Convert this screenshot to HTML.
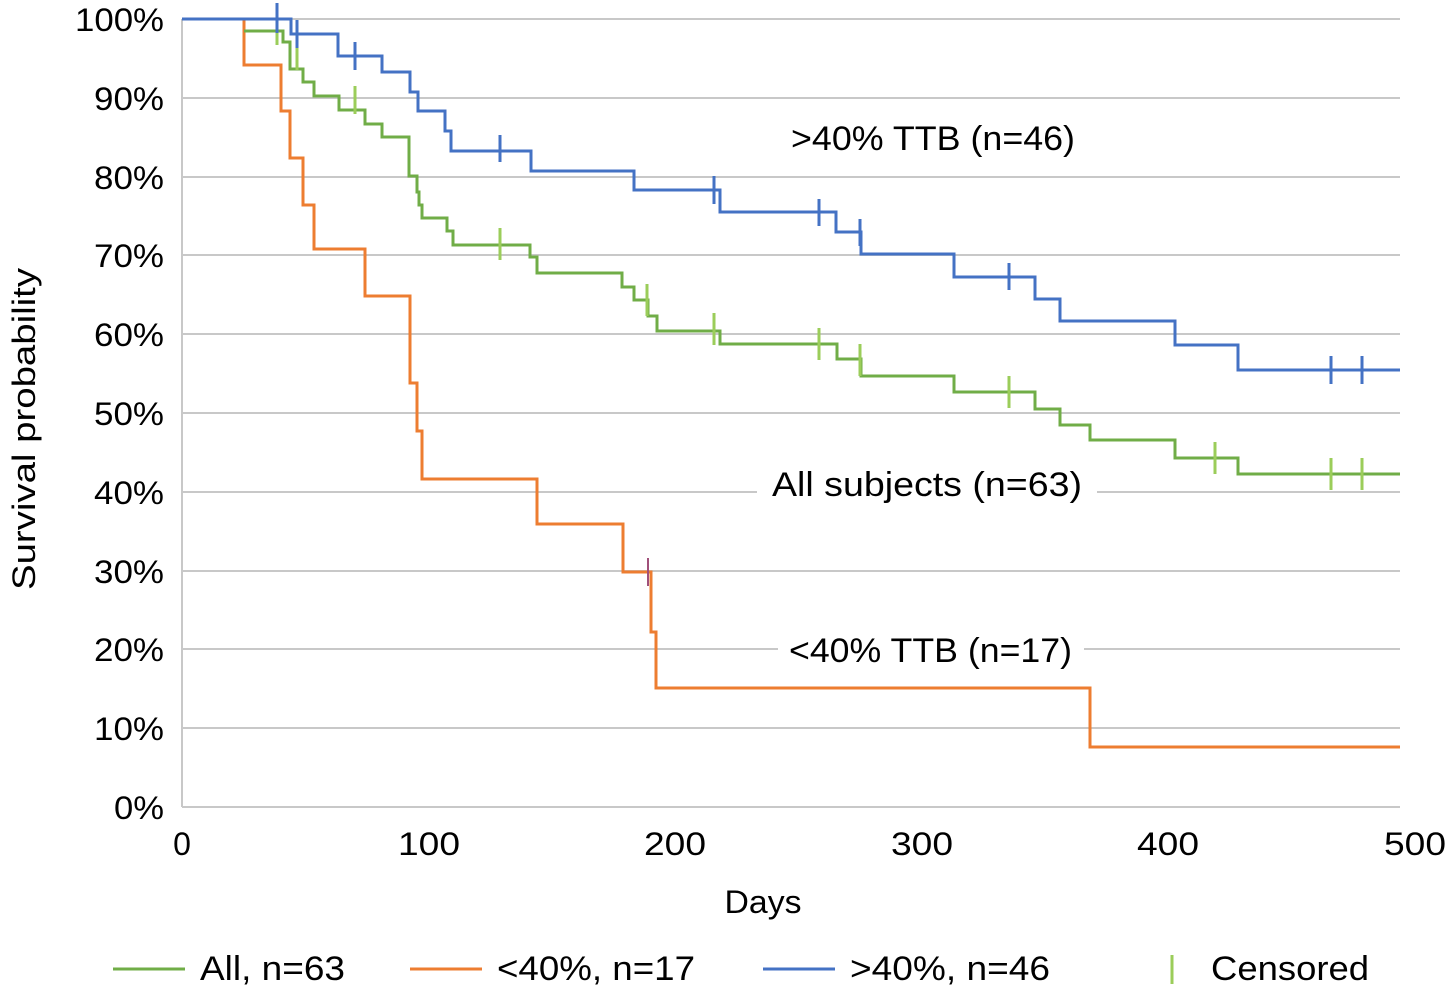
<!DOCTYPE html>
<html><head><meta charset="utf-8"><style>body{margin:0;background:#fff}</style></head><body>
<svg width="1448" height="994" xmlns="http://www.w3.org/2000/svg" font-family="Liberation Sans, sans-serif" fill="#000">
<g stroke="#c8c8c8" stroke-width="2">
<line x1="182" y1="19" x2="1400" y2="19"/><line x1="182" y1="98" x2="1400" y2="98"/><line x1="182" y1="177" x2="1400" y2="177"/><line x1="182" y1="255" x2="1400" y2="255"/><line x1="182" y1="334" x2="1400" y2="334"/><line x1="182" y1="413" x2="1400" y2="413"/><line x1="182" y1="492" x2="1400" y2="492"/><line x1="182" y1="571" x2="1400" y2="571"/><line x1="182" y1="649" x2="1400" y2="649"/><line x1="182" y1="728" x2="1400" y2="728"/><line x1="182" y1="807" x2="1400" y2="807"/>
<line x1="182" y1="19" x2="182" y2="807"/>
</g>
<g font-size="32" text-anchor="end" lengthAdjust="spacingAndGlyphs">
<text x="164" y="31" textLength="89" lengthAdjust="spacingAndGlyphs">100%</text><text x="164" y="110" textLength="70" lengthAdjust="spacingAndGlyphs">90%</text><text x="164" y="189" textLength="70" lengthAdjust="spacingAndGlyphs">80%</text><text x="164" y="267" textLength="70" lengthAdjust="spacingAndGlyphs">70%</text><text x="164" y="346" textLength="70" lengthAdjust="spacingAndGlyphs">60%</text><text x="164" y="425" textLength="70" lengthAdjust="spacingAndGlyphs">50%</text><text x="164" y="504" textLength="70" lengthAdjust="spacingAndGlyphs">40%</text><text x="164" y="583" textLength="70" lengthAdjust="spacingAndGlyphs">30%</text><text x="164" y="661" textLength="70" lengthAdjust="spacingAndGlyphs">20%</text><text x="164" y="740" textLength="70" lengthAdjust="spacingAndGlyphs">10%</text><text x="164" y="819" textLength="50" lengthAdjust="spacingAndGlyphs">0%</text>
</g>
<g font-size="32" text-anchor="middle">
<text x="182" y="855">0</text><text x="429" y="855" textLength="62" lengthAdjust="spacingAndGlyphs">100</text><text x="675" y="855" textLength="62" lengthAdjust="spacingAndGlyphs">200</text><text x="922" y="855" textLength="62" lengthAdjust="spacingAndGlyphs">300</text><text x="1168" y="855" textLength="62" lengthAdjust="spacingAndGlyphs">400</text><text x="1415" y="855" textLength="62" lengthAdjust="spacingAndGlyphs">500</text>
<text x="763" y="913" textLength="77" lengthAdjust="spacingAndGlyphs">Days</text>
<text transform="translate(35,429) rotate(-90)" textLength="322" lengthAdjust="spacingAndGlyphs">Survival probability</text>
</g>
<g fill="none" stroke-width="3">
<path stroke="#ed7d31" d="M244 19V65H281V111H290V158H303V205H314V249H365V296H410V383H417V431H422V479H537V524H623V572H651V632H656V688H1090V747H1400"/>
<path stroke="#70ad47" d="M244 31H283V42H290V69H303V82H314V96H339V110H365V124H382V137H409V176H417V192H419V205H422V218H447V231H453V245H530V257H537V273H622V287H634V300H648V316H657V331H720V344H837V359H861V376H954V392H1035V409H1060V425H1090V440H1175V458H1238V474H1400"/>
<path stroke="#4472c4" d="M182 19H291V34H338V56H382V72H410V92H418V111H445V131H451V151H531V171H634V190H720V212H836V232H861V254H954V277H1035V299H1060V321H1175V345H1238V370H1400"/>
</g>
<g stroke="#9bcd5a" stroke-width="3">
<path d="M277 17V45M297 40V70M355 86V114M500 228V260M647 284V316M714 313V345M819 328V360M860 344V376M1009 376V408M1215 442V474M1331 458V490M1362 458V490"/>
</g>
<g stroke="#4472c4" stroke-width="3">
<path d="M277 3V33M297 20V48M355 42V70M500 135V162M714 176V204M819 199V226M860 219V246M1009 263V290M1331 356V384M1362 356V384"/>
</g>
<path stroke="#a0507a" stroke-width="2" d="M648 558V586"/>
<g font-size="34">
<rect x="775" y="115" width="316" height="45" fill="#fff"/><text x="791" y="150" textLength="284" lengthAdjust="spacingAndGlyphs">&gt;40% TTB (n=46)</text>
<rect x="757" y="460" width="340" height="45" fill="#fff"/><text x="772" y="496" textLength="310" lengthAdjust="spacingAndGlyphs">All subjects (n=63)</text>
<rect x="778" y="627" width="306" height="45" fill="#fff"/><text x="789" y="662" textLength="283" lengthAdjust="spacingAndGlyphs">&lt;40% TTB (n=17)</text>
</g>
<g stroke-width="3">
<line x1="113" y1="969" x2="185" y2="969" stroke="#70ad47"/>
<line x1="410" y1="969" x2="482" y2="969" stroke="#ed7d31"/>
<line x1="763" y1="969" x2="835" y2="969" stroke="#4472c4"/>
<line x1="1172" y1="955" x2="1172" y2="984" stroke="#9bcd5a"/>
</g>
<g font-size="34">
<text x="200" y="980" textLength="145" lengthAdjust="spacingAndGlyphs">All, n=63</text><text x="497" y="980" textLength="198" lengthAdjust="spacingAndGlyphs">&lt;40%, n=17</text><text x="850" y="980" textLength="200" lengthAdjust="spacingAndGlyphs">&gt;40%, n=46</text><text x="1211" y="980" textLength="158" lengthAdjust="spacingAndGlyphs">Censored</text>
</g>
</svg>
</body></html>
